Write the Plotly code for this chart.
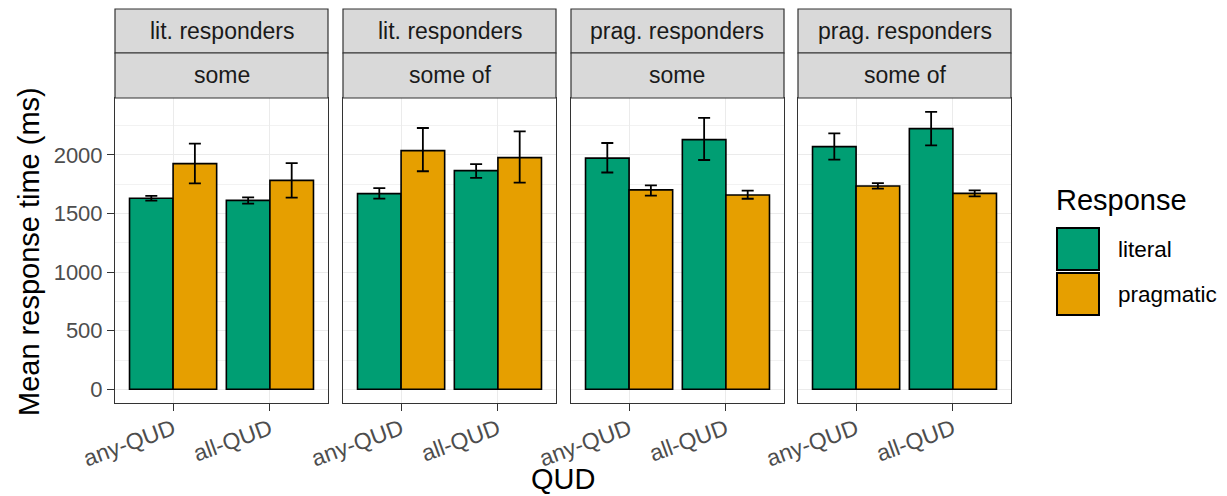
import plotly.graph_objects as go

# ---- data ----
qud = ["any-QUD", "all-QUD"]
panels_top = ["lit. responders", "lit. responders", "prag. responders", "prag. responders"]
panels_bottom = ["some", "some of", "some", "some of"]

literal_mean = [[1630, 1612], [1670, 1866], [1973, 2131], [2071, 2225]]
literal_lo = [[1610, 1585], [1628, 1805], [1850, 1957], [1960, 2082]]
literal_hi = [[1650, 1638], [1717, 1922], [2102, 2316], [2184, 2367]]

prag_mean = [[1926, 1783], [2037, 1977], [1702, 1658], [1735, 1672]]
prag_lo = [[1758, 1636], [1861, 1764], [1652, 1626], [1712, 1646]]
prag_hi = [[2096, 1931], [2230, 2202], [1740, 1695], [1760, 1697]]

resp_labels = ["literal", "pragmatic"]
colors = ["#009E73", "#E69F00"]
yticks = [0, 500, 1000, 1500, 2000]

# page body has an 8px margin; figure fills the rest of the window
OFF = 8
W, H = 1227 - OFF, 496 - OFF
FONT = "Liberation Sans, Arial, sans-serif"

def px(x):
    return (x - OFF) / W

def py(y):
    return 1 - (y - OFF) / H

panel_left = [115, 343, 571, 798]
panel_w = 213
p_top, p_bot = 98, 403
strip_top, strip_mid = 9, 53

fig = go.Figure()
layout = {}
shapes = []
annotations = []

series = [
    (literal_mean, literal_lo, literal_hi, colors[0], resp_labels[0]),
    (prag_mean, prag_lo, prag_hi, colors[1], resp_labels[1]),
]

for i in range(4):
    xa = "x" if i == 0 else f"x{i+1}"
    ya = "y" if i == 0 else f"y{i+1}"
    for means, lo, hi, col, name in series:
        m = means[i]
        fig.add_trace(go.Bar(
            x=qud, y=m, name=name, showlegend=False,
            marker=dict(color=col, line=dict(color="black", width=1.6)),
            error_y=dict(type="data", symmetric=False,
                         array=[h - v for h, v in zip(hi[i], m)],
                         arrayminus=[v - l for l, v in zip(lo[i], m)],
                         color="black", thickness=1.8, width=6),
            xaxis=xa, yaxis=ya,
        ))
    xkey = "xaxis" if i == 0 else f"xaxis{i+1}"
    ykey = "yaxis" if i == 0 else f"yaxis{i+1}"
    L = panel_left[i]
    layout[xkey] = dict(
        domain=[px(L), px(L + panel_w)], anchor=ya, automargin=False,
        type="category", categoryorder="array", categoryarray=qud,
        range=[-0.6, 1.6], showgrid=True, gridcolor="#EBEBEB", gridwidth=1.1,
        showline=True, linecolor="#333333", linewidth=1, mirror=True,
        ticks="outside", ticklen=7, tickcolor="#333333", tickwidth=1.2,
        tickangle=-20, ticklabelstandoff=-4,
        tickfont=dict(family=FONT, size=23, color="#4D4D4D"),
        zeroline=False, fixedrange=True,
    )
    layout[ykey] = dict(
        domain=[py(p_bot), py(p_top)], anchor=xa, automargin=False,
        range=[-117, 2486], tickvals=yticks,
        showgrid=True, gridcolor="#EBEBEB", gridwidth=1.1,
        minor=dict(dtick=250, tick0=250, showgrid=True, gridcolor="#F2F2F2", gridwidth=0.6),
        showline=True, linecolor="#333333", linewidth=1, mirror=True,
        ticks="outside" if i == 0 else "", ticklen=7, tickcolor="#333333", tickwidth=1.2,
        showticklabels=(i == 0),
        tickfont=dict(family=FONT, size=22, color="#4D4D4D"),
        zeroline=False, fixedrange=True,
    )
    if i > 0:
        layout[ykey]["matches"] = "y"
    # strips
    for (t0, t1, txt) in [(strip_top, strip_mid, panels_top[i]), (strip_mid, p_top, panels_bottom[i])]:
        shapes.append(dict(type="rect", xref="paper", yref="paper",
                           x0=px(L), x1=px(L + panel_w), y0=py(t1), y1=py(t0),
                           fillcolor="#D9D9D9", line=dict(color="#333333", width=1.2), layer="above"))
        annotations.append(dict(xref="paper", yref="paper", x=px(L + panel_w / 2), y=py((t0 + t1) / 2),
                                text=txt, showarrow=False, xanchor="center", yanchor="middle",
                                font=dict(family=FONT, size=23, color="#1A1A1A")))

# axis titles
annotations.append(dict(xref="paper", yref="paper", x=px(563), y=py(479), text="QUD", showarrow=False,
                        xanchor="center", yanchor="middle",
                        font=dict(family=FONT, size=29, color="black")))
annotations.append(dict(xref="paper", yref="paper", x=px(29), y=py(252), text="Mean response time (ms)",
                        showarrow=False, textangle=-90, xanchor="center", yanchor="middle",
                        font=dict(family=FONT, size=29, color="black")))

# legend (manual)
annotations.append(dict(xref="paper", yref="paper", x=px(1054), y=py(200), text="Response", showarrow=False,
                        xanchor="left", yanchor="middle",
                        font=dict(family=FONT, size=29, color="black")))
key_tops = [228, 273]
for k in range(2):
    t = key_tops[k]
    shapes.append(dict(type="rect", xref="paper", yref="paper",
                       x0=px(1057), x1=px(1099), y0=py(t + 42), y1=py(t),
                       fillcolor=colors[k], line=dict(color="black", width=2)))
    annotations.append(dict(xref="paper", yref="paper", x=px(1116), y=py(t + 21), text=resp_labels[k],
                            showarrow=False, xanchor="left", yanchor="middle",
                            font=dict(family=FONT, size=22.5, color="black")))

fig.update_layout(
    width=W, height=H,
    margin=dict(l=0, r=0, t=0, b=0, autoexpand=False),
    paper_bgcolor="white", plot_bgcolor="white",
    barmode="group", bargap=0.1, bargroupgap=0,
    shapes=shapes, annotations=annotations, showlegend=False,
    **layout,
)

fig.write_html("out.html")
